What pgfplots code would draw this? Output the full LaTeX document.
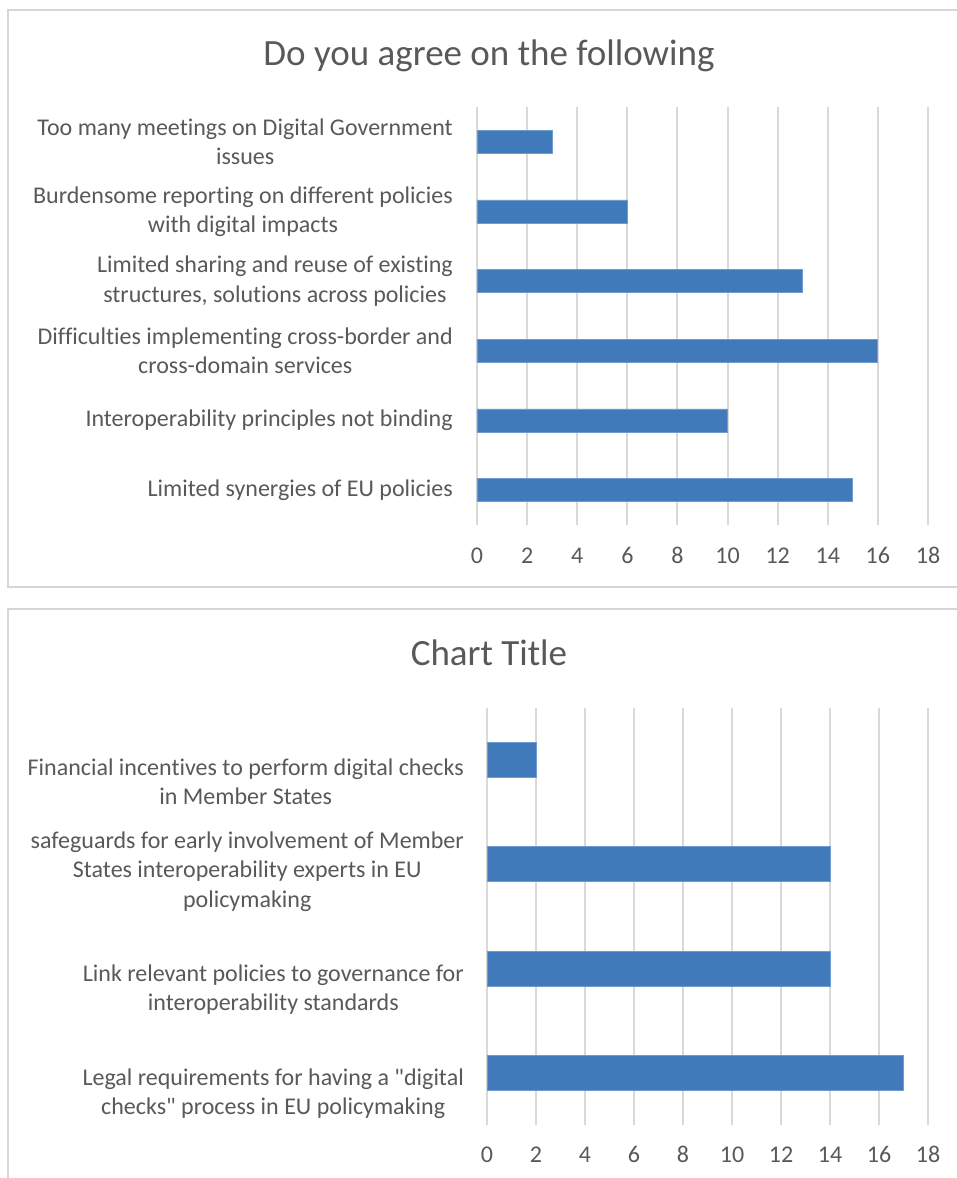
\documentclass[border=0pt]{standalone}
\usepackage{fontspec}
\setmainfont{Carlito}[Ligatures={TeXOff,NoCommon}]
\usepackage{pgfplots}
\pgfplotsset{compat=1.18}
\definecolor{txt}{HTML}{595959}
\definecolor{gridc}{HTML}{D9D9D9}
\definecolor{barc}{HTML}{417ABB}
\definecolor{bard}{HTML}{6E9BD0}
\definecolor{framec}{HTML}{D6D6D6}

\pgfplotsset{
  mybars/.style={
    scale only axis,
    anchor=north west,
    xmin=0, xmax=18,
    xtick={0,2,...,18},
    axis line style={draw=none},
    tick style={draw=none},
    xmajorgrids, ymajorgrids=false,
    major grid style={gridc, line width=2pt},
    /pgf/number format/assume math mode=true,
    tick label style={font=\fontsize{24}{29.3}\selectfont, text=txt},
    xticklabel style={anchor=base, inner sep=0pt},
    yticklabel style={anchor=east, align=center, inner sep=0pt, xshift=-24pt},
    clip=false,
  }
}

\begin{document}
\begin{tikzpicture}[x=1pt,y=1pt]
\clip (0pt,0pt) rectangle (957pt,1178pt);
\fill[white] (0pt,0pt) rectangle (957pt,1178pt);
% chart frames
\draw[framec, line width=2pt] (8pt,1168pt) rectangle (975pt,591pt);
\draw[framec, line width=2pt] (8pt,569pt) rectangle (975pt,-30pt);
% titles
\node[txt, anchor=base, inner sep=0pt, font=\fontsize{37}{44}\selectfont] at (489pt,1112pt) {Do you agree on the following};
\node[txt, anchor=base, inner sep=0pt, font=\fontsize{37}{44}\selectfont] at (489pt,512pt) {Chart Title};

% chart 1
\begin{axis}[mybars,
  at={(477pt,1071pt)},
  width=451pt, height=418pt,
  ymin=-0.5, ymax=5.5,
  ytick={0,1,2,3,4,5},
  yticklabels={{Limited synergies of EU policies},
               {Interoperability principles not binding},
               {Difficulties implementing cross-border and\\cross-domain services},
               {Limited sharing and reuse of existing\\structures, solutions across policies},
               {Burdensome reporting on different policies\\with digital impacts},
               {Too many meetings on Digital Government\\issues}},
  xticklabel style={yshift=-39pt},
]
\addplot[xbar, bar width=23pt, fill=barc, draw=bard, line width=0.8pt]
  coordinates {(15,0) (10,1) (16,2) (13,3) (6,4) (3,5)};
\end{axis}

% chart 2
\begin{axis}[mybars,
  at={(487pt,470pt)},
  width=441pt, height=417pt,
  ymin=-0.5, ymax=3.5,
  ytick={-0.197,0.80,1.93,2.79},
  yticklabels={{Legal requirements for having a "digital\\checks" process in EU policymaking},
               {Link relevant policies to governance for\\interoperability standards},
               {safeguards for early involvement of Member\\States interoperability experts in EU\\policymaking},
               {Financial incentives to perform digital checks\\in Member States}},
  yticklabel style={xshift=1pt},
  xticklabel style={yshift=-38pt},
]
\addplot[xbar, bar width=35pt, fill=barc, draw=bard, line width=0.8pt]
  coordinates {(17,0) (14,1) (14,2) (2,3)};
\end{axis}
\end{tikzpicture}
\end{document}
